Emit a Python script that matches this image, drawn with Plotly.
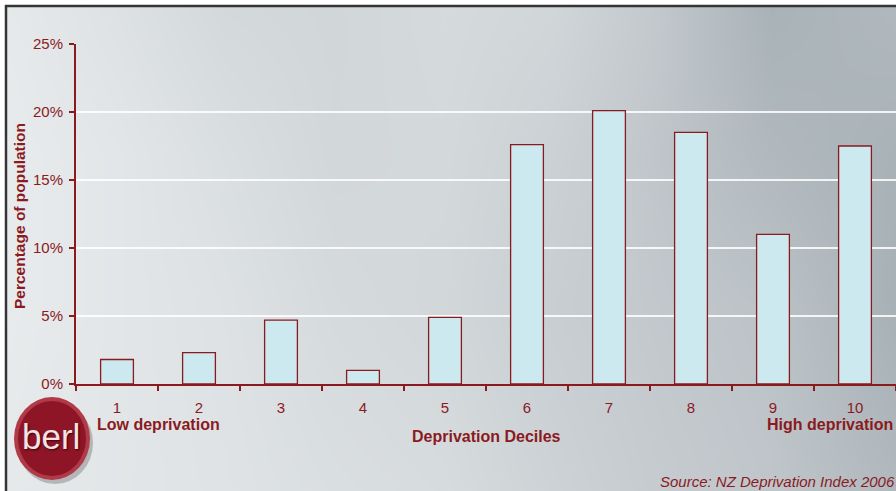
import plotly.graph_objects as go

W, H = 896, 491

# Share of population in each NZDep2006 decile (%)
deciles = ["1", "2", "3", "4", "5", "6", "7", "8", "9", "10"]
population_pct = [1.8, 2.3, 4.7, 1.0, 4.9, 17.6, 20.1, 18.5, 11.0, 17.5]
y_ticks = [0, 5, 10, 15, 20, 25]
y_tick_labels = ["0%", "5%", "10%", "15%", "20%", "25%"]

# Slide backdrop: brushed-metal shading (0 = light, 1 = dark)
bg_x = [0, 110, 220, 330, 440, 550, 660, 770, 896]
bg_y = [0, 150, 300, 491]
bg_shade = [
    [0.08, 0.18, 0.30, 0.33, 0.28, 0.33, 0.52, 0.78, 0.70],
    [0.05, 0.12, 0.22, 0.32, 0.30, 0.40, 0.55, 0.70, 0.78],
    [0.05, 0.12, 0.18, 0.28, 0.32, 0.44, 0.52, 0.58, 0.80],
    [0.08, 0.12, 0.16, 0.22, 0.26, 0.38, 0.48, 0.54, 0.70],
]

RED = "#8b1a1f"
FONT = "Liberation Sans, Arial, sans-serif"


def px(x):
    return x / W


def py(y):
    return 1 - y / H


fig = go.Figure()

# backdrop on its own full-page axes
fig.add_trace(go.Heatmap(
    x=bg_x, y=bg_y, z=bg_shade, zsmooth="best", zmin=0, zmax=1,
    colorscale=[[0, "#eceff0"], [0.5, "#c3c9cd"], [1, "#94a0a6"]],
    showscale=False, hoverinfo="skip", xaxis="x", yaxis="y",
))

# the bars
fig.add_trace(go.Bar(
    x=deciles, y=population_pct, xaxis="x2", yaxis="y2",
    marker=dict(color="#cde9f0", line=dict(color=RED, width=1.3)),
    width=0.4, hoverinfo="x+y",
))

fig.update_layout(
    width=W, height=H,
    margin=dict(l=0, r=0, t=0, b=0, autoexpand=False),
    paper_bgcolor="white",
    plot_bgcolor="rgba(0,0,0,0)",
    showlegend=False,
    font=dict(family=FONT, color=RED, size=15),
    xaxis=dict(domain=[px(7), 1], range=[0, 896], visible=False,
               fixedrange=True, automargin=False),
    yaxis=dict(domain=[0, py(7)], range=[491, 0], visible=False,
               fixedrange=True, automargin=False),
    xaxis2=dict(
        domain=[px(76), px(896)], anchor="y2", type="category",
        range=[-0.5, 9.5], automargin=False,
        showline=True, linecolor=RED, linewidth=2,
        ticks="outside", tickson="boundaries", ticklen=5, tickcolor=RED, tickwidth=1.5,
        tickfont=dict(size=15, color=RED, family=FONT),
        ticklabelstandoff=9,
        showgrid=False, zeroline=False,
    ),
    yaxis2=dict(
        domain=[py(384), py(44)], anchor="x2", automargin=False,
        range=[0, 25], tickmode="array", tickvals=y_ticks, ticktext=y_tick_labels,
        showline=True, linecolor=RED, linewidth=2,
        ticks="outside", ticklen=5, tickcolor=RED, tickwidth=1.5,
        tickfont=dict(size=15, color=RED, family=FONT),
        ticklabelstandoff=3,
        showgrid=True, gridcolor="rgba(255,255,255,0.85)", gridwidth=1.5,
        zeroline=False,
    ),
)

notes = [
    dict(text="Percentage of population", x=px(19), y=py(216), textangle=-90,
         xanchor="center", yanchor="middle", font=dict(size=15.5, weight="bold")),
    dict(text="Low deprivation", x=px(95), y=py(424), xanchor="left",
         yanchor="middle", font=dict(size=16, weight="bold")),
    dict(text="Deprivation Deciles", x=px(486), y=py(436), xanchor="center",
         yanchor="middle", font=dict(size=16, weight="bold")),
    dict(text="High deprivation", x=px(895), y=py(424), xanchor="right",
         yanchor="middle", font=dict(size=16, weight="bold")),
    dict(text="Source: NZ Deprivation Index 2006", x=px(658), y=py(481),
         xanchor="left", yanchor="middle", font=dict(size=15, style="italic")),
    dict(text="berl", x=px(51), y=py(436), xanchor="center", yanchor="middle",
         font=dict(size=35, color="#f4e2e6", family=FONT,
                   shadow="1px 1px 2px #3d0006")),
]
for n in notes:
    fig.add_annotation(xref="paper", yref="paper", showarrow=False, **n)

shapes = [
    # logo disc with drop shadow and lighter rim
    dict(type="circle", x0=px(17), x1=px(93), y0=py(402), y1=py(484),
         fillcolor="rgba(70,70,70,0.30)", line=dict(width=0)),
    dict(type="circle", x0=px(14), x1=px(90), y0=py(397), y1=py(480),
         fillcolor="#b03a48", line=dict(width=0)),
    dict(type="circle", x0=px(18), x1=px(86), y0=py(401), y1=py(476),
         fillcolor="#8e1525", line=dict(width=0)),
    # slide frame
    dict(type="line", x0=px(6), x1=px(6), y0=0, y1=py(5),
         line=dict(color="#353535", width=2.5)),
    dict(type="line", x0=px(5), x1=1, y0=py(6), y1=py(6),
         line=dict(color="#353535", width=2.5)),
]
for s in shapes:
    fig.add_shape(xref="paper", yref="paper", layer="above", **s)

fig.write_html("out.html")
